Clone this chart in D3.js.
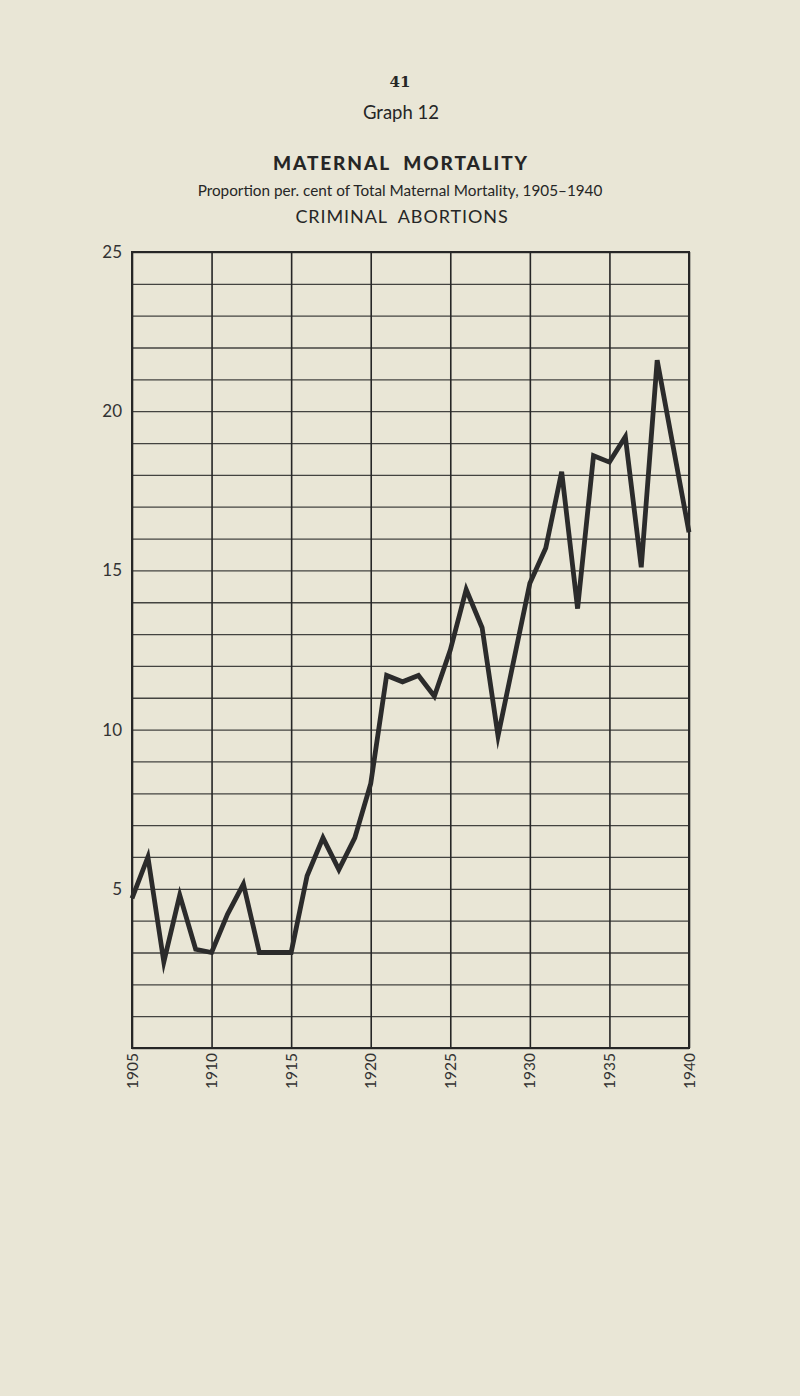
<!DOCTYPE html>
<html>
<head>
<meta charset="utf-8">
<script src="https://cdn.jsdelivr.net/npm/d3@7"></script>
<style>
  html, body { margin: 0; padding: 0; background: #e9e6d6; }
  svg { display: block; }
</style>
</head>
<body>
<svg id="chart" width="800" height="1396"></svg>
<script>
// ---- Data ----
const years = d3.range(1905, 1941);
const values = [
  4.7, 6.0, 2.7, 4.8, 3.1, 3.0, 4.2, 5.15, 3.0, 3.0,
  3.0, 5.4, 6.6, 5.6, 6.6, 8.3, 11.7, 11.5, 11.7, 11.05,
  12.5, 14.4, 13.2, 9.8, 12.2, 14.6, 15.7, 18.1, 13.8, 18.6,
  18.4, 19.2, 15.1, 21.6, 18.9, 16.2
];
const yTickLabels = [5, 10, 15, 20, 25];
const xTickLabels = [1905, 1910, 1915, 1920, 1925, 1930, 1935, 1940];
const titles = {
  page: "41",
  graph: "Graph 12",
  main: "MATERNAL  MORTALITY",
  sub: "Proportion per. cent of Total Maternal Mortality, 1905\u20131940",
  cause: "CRIMINAL  ABORTIONS"
};

// ---- Layout ----
const svg = d3.select("#chart");
const pLeft = 132, pRight = 689, pTop = 252, pBottom = 1048;
const ink = "#262626";

const x = d3.scaleLinear().domain([1905, 1940]).range([pLeft, pRight]);
const y = d3.scaleLinear().domain([0, 25]).range([pBottom, pTop]);

// Titles
const sans = "'Lato', 'Open Sans', sans-serif";
svg.append("text").attr("x", 400).attr("y", 87).attr("text-anchor", "middle")
  .attr("font-family", "'DejaVu Serif', serif").attr("font-weight", "bold")
  .attr("font-size", 15).attr("fill", ink).text(titles.page);
svg.append("text").attr("x", 401).attr("y", 119).attr("text-anchor", "middle")
  .attr("font-family", sans).attr("font-size", 18.5).attr("fill", ink).text(titles.graph);
svg.append("text").attr("x", 401).attr("y", 170).attr("text-anchor", "middle")
  .attr("font-family", sans).attr("font-weight", "900").attr("font-size", 19)
  .attr("letter-spacing", 1.9).attr("fill", ink).style("white-space", "pre").text(titles.main);
svg.append("text").attr("x", 400).attr("y", 196).attr("text-anchor", "middle")
  .attr("font-family", sans).attr("font-size", 15.3).attr("fill", ink).text(titles.sub);
svg.append("text").attr("x", 402).attr("y", 223).attr("text-anchor", "middle")
  .attr("font-family", sans).attr("font-size", 18).attr("letter-spacing", 0.9)
  .attr("fill", ink).style("white-space", "pre").text(titles.cause);

// Horizontal grid
const hGrid = svg.append("g").attr("transform", `translate(${pLeft},0)`)
  .call(d3.axisLeft(y).tickValues(d3.range(0, 26)).tickSize(-(pRight - pLeft)).tickFormat(""));
hGrid.select(".domain").remove();
hGrid.selectAll("line").attr("stroke", ink).attr("stroke-width", 1.3).attr("opacity", 0.85);

// Vertical grid
const vGrid = svg.append("g").attr("transform", `translate(0,${pBottom})`)
  .call(d3.axisBottom(x).tickValues(xTickLabels).tickSize(-(pBottom - pTop)).tickFormat(""));
vGrid.select(".domain").remove();
vGrid.selectAll("line").attr("stroke", ink).attr("stroke-width", 1.6);

// Frame
svg.append("rect").attr("x", pLeft).attr("y", pTop).attr("width", pRight - pLeft)
  .attr("height", pBottom - pTop).attr("fill", "none").attr("stroke", ink).attr("stroke-width", 2);

// Y labels
const yAxis = svg.append("g").attr("transform", `translate(${pLeft},0)`)
  .call(d3.axisLeft(y).tickValues(yTickLabels).tickSize(0).tickPadding(10));
yAxis.select(".domain").remove();
yAxis.selectAll("text").attr("font-family", sans).attr("font-size", 17).attr("fill", "#333");

// X labels (rotated)
const xAxis = svg.append("g").attr("transform", `translate(0,${pBottom})`)
  .call(d3.axisBottom(x).tickValues(xTickLabels).tickSize(0).tickFormat(d3.format("d")));
xAxis.select(".domain").remove();
xAxis.selectAll("text")
  .attr("font-family", sans).attr("font-size", 15.5).attr("fill", "#333")
  .attr("text-anchor", "end").attr("dy", null).attr("y", 0)
  .attr("transform", "translate(5,5) rotate(-90)");

// Data line
const line = d3.line().x((d, i) => x(years[i])).y(d => y(d));
svg.append("path").datum(values)
  .attr("d", line).attr("fill", "none").attr("stroke", "#2b2b2b")
  .attr("stroke-width", 4.8).attr("stroke-linejoin", "miter").attr("stroke-miterlimit", 6);
</script>
</body>
</html>
